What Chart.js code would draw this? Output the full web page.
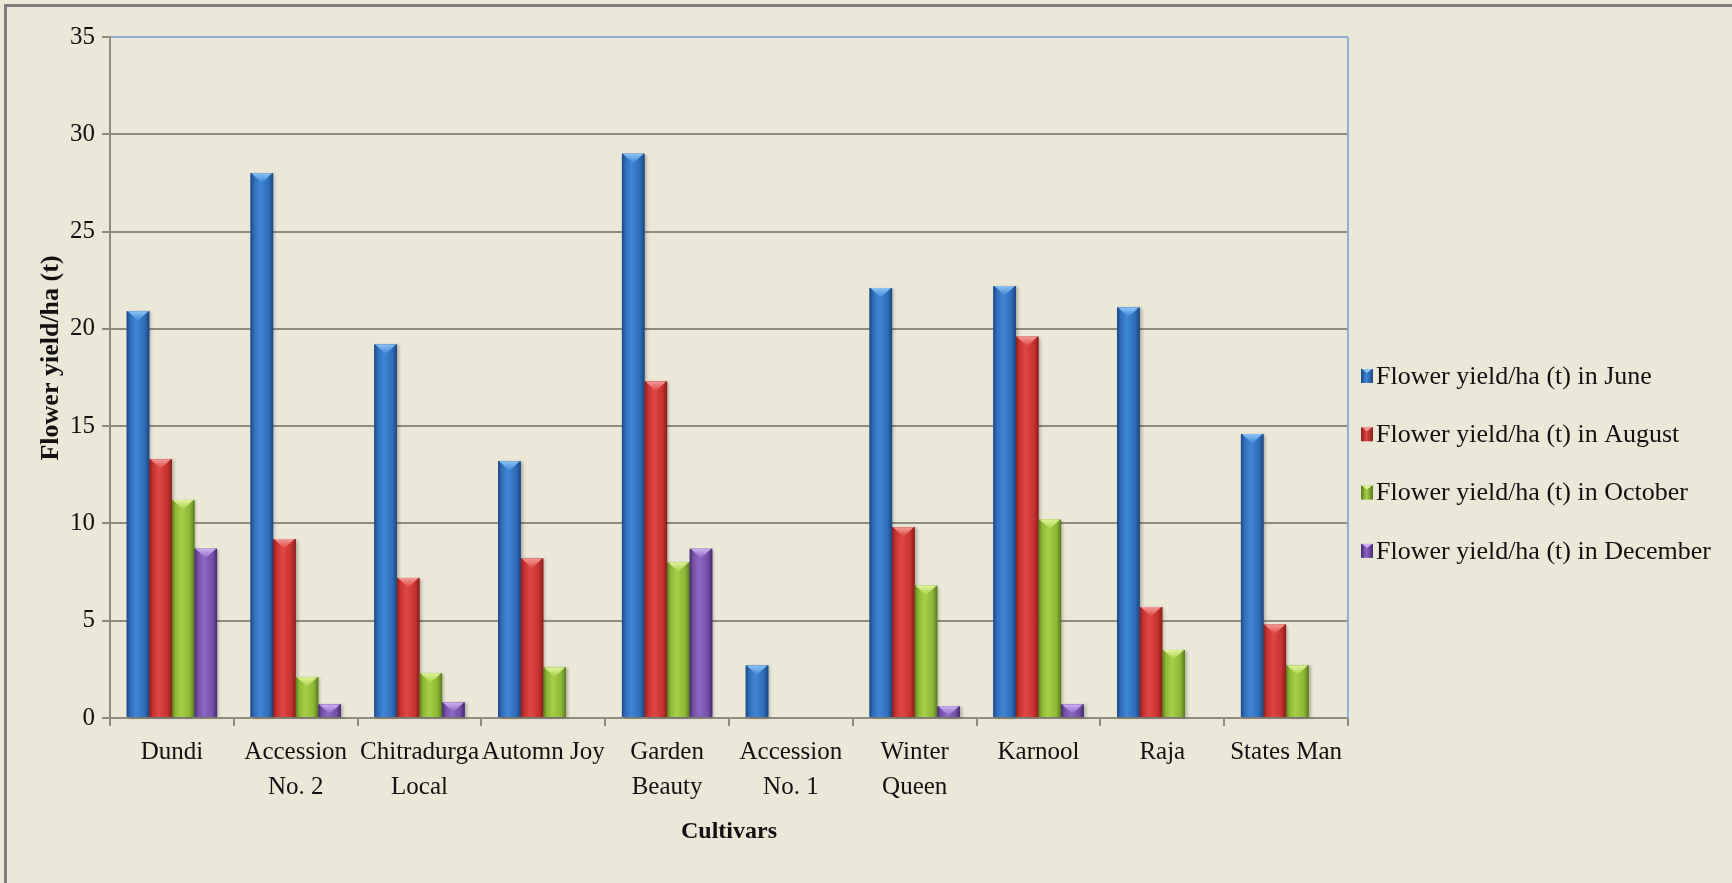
<!DOCTYPE html>
<html lang="en">
<head>
<meta charset="UTF-8">
<title>Flower yield of cultivars</title>
<script src="https://cdn.jsdelivr.net/npm/chart.js"></script>
<style>
  html, body { margin: 0; padding: 0; background: #ebe8d8; }
  #wrap { width: 1732px; height: 883px; }
</style>
</head>
<body>
<div id="wrap"><canvas id="yieldChart" width="1732" height="883"></canvas></div>
<script>
// cultivars and flower yield per hectare (t) by month of harvest
const cultivars = [
  ['Dundi'], ['Accession', 'No. 2'], ['Chitradurga', 'Local'], ['Automn Joy'],
  ['Garden', 'Beauty'], ['Accession', 'No. 1'], ['Winter', 'Queen'], ['Karnool'],
  ['Raja'], ['States Man']
];
const yieldJune     = [20.9, 28.0, 19.2, 13.2, 29.0, 2.7, 22.1, 22.2, 21.1, 14.6];
const yieldAugust   = [13.3, 9.2, 7.2, 8.2, 17.3, null, 9.8, 19.6, 5.7, 4.8];
const yieldOctober  = [11.2, 2.1, 2.3, 2.6, 8.0, null, 6.8, 10.2, 3.5, 2.7];
const yieldDecember = [8.7, 0.7, 0.8, null, 8.7, null, 0.6, 0.7, null, null];
const yTicks = [0, 5, 10, 15, 20, 25, 30, 35];

const serif = "'Liberation Serif', 'Times New Roman', serif";
const gridGray = '#8f8b80';

// colours for the shaded "3D" bar look
const shades = [
  { dark: '#1b4682', mid: '#2f6cb8', light: '#3f86d6', facet: '#8cc3f4' },
  { dark: '#8a1e1b', mid: '#c53231', light: '#de4744', facet: '#f39a96' },
  { dark: '#5a7a1c', mid: '#8cb634', light: '#a6cf48', facet: '#e0f59a' },
  { dark: '#45296f', mid: '#7350a6', light: '#8d66c4', facet: '#cfb0f2' }
];

function paintBar(ctx, el, s) {
  const { x, y, width, base } = el.getProps(['x', 'y', 'width', 'base'], true);
  const left = x - width / 2, right = x + width / 2;
  const top = Math.min(y, base), bottom = Math.max(y, base);
  if (bottom - top < 0.5) return;
  const g = ctx.createLinearGradient(left, 0, right, 0);
  g.addColorStop(0, s.dark);
  g.addColorStop(0.15, s.mid);
  g.addColorStop(0.42, s.light);
  g.addColorStop(0.8, s.mid);
  g.addColorStop(1, s.dark);
  ctx.save();
  ctx.shadowColor = 'rgba(0,0,0,0.25)';
  ctx.shadowOffsetX = 2;
  ctx.shadowOffsetY = 1;
  ctx.shadowBlur = 3;
  ctx.fillStyle = g;
  ctx.fillRect(left, top, width, bottom - top);
  ctx.restore();
  // bevelled top facet
  const h = Math.min(width * 0.42, bottom - top);
  const fg = ctx.createLinearGradient(0, top, 0, top + h);
  fg.addColorStop(0, s.facet);
  fg.addColorStop(1, s.light);
  ctx.fillStyle = fg;
  ctx.beginPath();
  ctx.moveTo(left + 1, top);
  ctx.lineTo(right - 1, top);
  ctx.lineTo(x, top + h);
  ctx.closePath();
  ctx.fill();
}

const shadedBars = {
  id: 'shadedBars',
  afterDatasetsDraw(chart) {
    const ctx = chart.ctx;
    chart.data.datasets.forEach((ds, i) => {
      const meta = chart.getDatasetMeta(i);
      meta.data.forEach((el, j) => {
        if (ds.data[j] == null) return;
        paintBar(ctx, el, shades[i]);
      });
    });
  }
};

// outer frame, right border of the plot and the legend on the right
const frame = {
  id: 'frame',
  beforeDraw(chart) {
    const ctx = chart.ctx;
    ctx.save();
    ctx.fillStyle = '#ebe8d8';
    ctx.fillRect(0, 0, chart.width, chart.height);
    ctx.strokeStyle = '#7d7d7d';
    ctx.lineWidth = 3;
    ctx.beginPath();
    ctx.moveTo(5.5, chart.height);
    ctx.lineTo(5.5, 5.5);
    ctx.lineTo(chart.width, 5.5);
    ctx.stroke();
    ctx.restore();
  },
  afterDraw(chart) {
    const ctx = chart.ctx;
    const a = chart.chartArea;
    ctx.save();
    ctx.strokeStyle = '#8eaedb';
    ctx.lineWidth = 2;
    ctx.beginPath();
    ctx.moveTo(a.right, a.top);
    ctx.lineTo(a.right, a.bottom);
    ctx.stroke();

    const x0 = 1361, y0 = 376, step = 58.3;
    ctx.font = '26px ' + serif;
    ctx.textBaseline = 'middle';
    chart.data.datasets.forEach((ds, i) => {
      const s = shades[i];
      const yc = y0 + i * step;
      const g = ctx.createLinearGradient(x0, 0, x0 + 12, 0);
      g.addColorStop(0, s.dark);
      g.addColorStop(0.45, s.light);
      g.addColorStop(1, s.dark);
      ctx.fillStyle = g;
      ctx.fillRect(x0, yc - 7, 12, 14);
      ctx.fillStyle = s.facet;
      ctx.beginPath();
      ctx.moveTo(x0 + 1, yc - 7);
      ctx.lineTo(x0 + 11, yc - 7);
      ctx.lineTo(x0 + 6, yc - 3);
      ctx.closePath();
      ctx.fill();
      ctx.fillStyle = '#111';
      ctx.fillText(ds.label, x0 + 15, yc + 1);
    });
    ctx.restore();
  }
};

const monthLabels = ['June', 'August', 'October', 'December'];
const series = [yieldJune, yieldAugust, yieldOctober, yieldDecember];

new Chart(document.getElementById('yieldChart'), {
  type: 'bar',
  data: {
    labels: cultivars,
    datasets: series.map((values, i) => ({
      label: 'Flower yield/ha (t) in ' + monthLabels[i],
      data: values,
      backgroundColor: shades[i].mid,
      borderWidth: 0,
      categoryPercentage: 0.73,
      barPercentage: 1.0
    }))
  },
  options: {
    responsive: false,
    animation: false,
    layout: { padding: { top: 37, right: 384, bottom: 0, left: 0 } },
    plugins: {
      legend: { display: false },
      tooltip: { enabled: false }
    },
    scales: {
      x: {
        afterFit: s => { s.height = 165; },
        ticks: {
          font: { family: serif, size: 25, lineHeight: 1.4 },
          color: '#111',
          padding: 9,
          maxRotation: 0,
          minRotation: 0,
          autoSkip: false
        },
        grid: { drawOnChartArea: false, offset: true, tickLength: 8, color: gridGray, lineWidth: 2 },
        border: { display: true, color: gridGray, width: 2 },
        title: {
          display: true,
          text: 'Cultivars',
          color: '#111',
          font: { family: serif, size: 24, weight: 'bold' },
          padding: { top: 0, bottom: 37 }
        }
      },
      y: {
        min: 0,
        max: 35,
        afterBuildTicks: s => { s.ticks = yTicks.map(v => ({ value: v })); },
        afterFit: s => { s.width = 110; },
        ticks: { font: { family: serif, size: 25 }, color: '#111', padding: 7 },
        grid: {
          color: c => (c.tick && c.tick.value === 35 ? '#8eaedb' : gridGray),
          tickColor: gridGray,
          lineWidth: 2,
          tickLength: 8
        },
        border: { display: true, color: gridGray, width: 2 },
        title: {
          display: true,
          // leading spaces lift the rotated title slightly above the axis centre
          text: '      Flower yield/ha (t)',
          color: '#111',
          font: { family: serif, size: 26, weight: 'bold' },
          padding: { top: 36, bottom: 0 }
        }
      }
    }
  },
  plugins: [frame, shadedBars]
});
</script>
</body>
</html>
